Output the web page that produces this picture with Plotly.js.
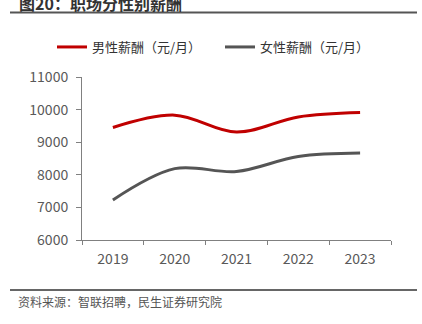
<!DOCTYPE html>
<html><head><meta charset="utf-8">
<script src="https://cdn.plot.ly/plotly-3.0.1.min.js"></script>
<style>html,body{margin:0;padding:0;background:#fff}#c{width:422px;height:324px}</style>
</head><body><div id="c"></div>
<script>
const years = ['2019','2020','2021','2022','2023'];
const maleSalary = [9450, 9830, 9310, 9775, 9910];
const femaleSalary = [7230, 8190, 8100, 8560, 8665];
const yTicks = [6000,7000,8000,9000,10000,11000];
const yTickText = ['6000','7000','8000','9000','10000','11000'];
const seriesNames = ['男性薪酬（元/月）','女性薪酬（元/月）'];
const titleText = '图20：职场分性别薪酬';
const sourceText = '资料来源：智联招聘，民生证券研究院';

const L=82,R=391,T=77,B=240;
const px=x=>(x-L)/(R-L), py=y=>(B-y)/(B-T);
const font='"Noto Sans CJK SC","Noto Sans",sans-serif';

const traces=[
 {x:years,y:maleSalary,name:seriesNames[0],legend:'legend',type:'scatter',mode:'lines',line:{color:'#C00000',width:3,shape:'spline',smoothing:1}},
 {x:years,y:femaleSalary,name:seriesNames[1],legend:'legend2',type:'scatter',mode:'lines',line:{color:'#555555',width:3,shape:'spline',smoothing:1}}
];
const legBase={orientation:'h',xref:'container',yref:'container',xanchor:'left',y:1-47/324,yanchor:'middle',
   font:{size:13,color:'#333'},itemwidth:30,bgcolor:'rgba(0,0,0,0)'};
const layout={
 width:422,height:324,margin:{l:L,r:422-R,t:T,b:324-B},
 paper_bgcolor:'#fff',plot_bgcolor:'#fff',
 font:{family:font,size:13,color:'#595959'},
 showlegend:true,
 legend:Object.assign({},legBase,{x:52/422}),
 legend2:Object.assign({},legBase,{x:220/422}),
 xaxis:{type:'category',range:[-0.5,4.5],showgrid:false,showline:true,linecolor:'#808080',linewidth:1,
   ticks:'outside',tickson:'boundaries',ticklen:4,tickcolor:'#808080',ticklabelstandoff:6,tickfont:{size:14,color:'#595959'}},
 yaxis:{range:[6000,11000],tickvals:yTicks,ticktext:yTickText,showgrid:false,showline:true,linecolor:'#808080',linewidth:1,
   ticks:'outside',ticklen:5,tickcolor:'#808080',ticklabelstandoff:5,tickfont:{size:14,color:'#595959'},zeroline:false},
 shapes:[
  {type:'line',xref:'paper',yref:'paper',x0:px(10),x1:px(417),y0:py(12.5),y1:py(12.5),line:{color:'#555',width:2}},
  {type:'line',xref:'paper',yref:'paper',x0:px(10),x1:px(417),y0:py(290),y1:py(290),line:{color:'#666',width:2}}
 ],
 annotations:[
  {xref:'paper',yref:'paper',x:px(17),y:py(17),xanchor:'left',yanchor:'bottom',showarrow:false,
   text:'<b>'+titleText+'</b>',font:{size:16,color:'#333'}},
  {xref:'paper',yref:'paper',x:px(16),y:py(301),xanchor:'left',yanchor:'middle',showarrow:false,
   text:sourceText,font:{size:12,color:'#555'}}
 ]
};
Plotly.newPlot('c',traces,layout,{staticPlot:true,displayModeBar:false});
</script></body></html>
